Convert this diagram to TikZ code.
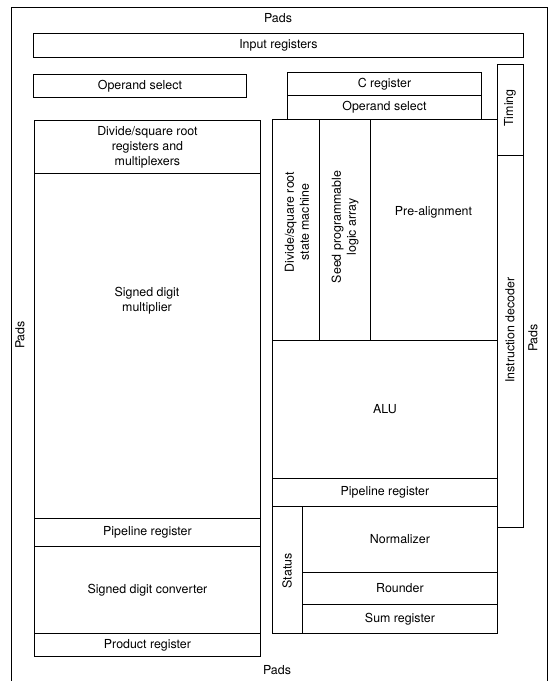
\documentclass[tikz,border=0pt]{standalone}
\usepackage{fontspec}
\setmainfont{TeX Gyre Heros}
\begin{document}
\begin{tikzpicture}[x=1pt,y=-1pt,
  blk/.style={draw, line width=0.9pt, inner sep=0pt, align=center, anchor=north west},
  lbl/.style={inner sep=0pt, align=center},
  vlbl/.style={inner sep=0pt, align=center, rotate=90},
  every node/.append style={font=\fontsize{12.4}{15}\selectfont}]
\useasboundingbox (0,0) rectangle (553,681);
\fill[white] (0,0) rectangle (553,681);
% outer pad ring
\draw[line width=0.8pt] (11,700) -- (11,7) -- (547,7) -- (547,700);
\node[lbl] (padsT) at (278,18) {Pads};
\node[lbl] (padsB) at (277,670) {Pads};
\node[vlbl] (padsL) at (20,335) {Pads};
\node[vlbl] (padsR) at (533,338) {Pads};
% top rows
\node[blk, minimum width=490pt, minimum height=24pt] (inreg) at (33,33) {Input registers};
\node[blk, minimum width=213pt, minimum height=23pt] (opsL) at (33,74) {Operand select};
\node[blk, minimum width=194pt, minimum height=23pt] (creg) at (287,72) {C register};
\node[blk, minimum width=194pt, minimum height=24pt] (opsR) at (287,95) {Operand select};
% timing / instruction decoder
\node[blk, minimum width=26pt, minimum height=91pt] (timing) at (497,64) {};
\node[vlbl] at (510,108) {Timing};
\node[blk, minimum width=26pt, minimum height=372pt] (instdec) at (497,155) {};
\node[vlbl] at (510,330) {Instruction decoder};
% left column
\node[blk, minimum width=226pt, minimum height=53pt] (dsr) at (34,120) {Divide/square root\\registers and\\multiplexers};
\node[blk, minimum width=226pt, minimum height=345pt] (sdm) at (34,173) {};
\node[lbl] at (147,301) {Signed digit\\multiplier};
\node[blk, minimum width=226pt, minimum height=28pt] (pipeL) at (34,518) {Pipeline register};
\node[blk, minimum width=226pt, minimum height=87pt] (sdc) at (34,546) {Signed digit converter};
\node[blk, minimum width=226pt, minimum height=23pt] (prod) at (34,633) {Product register};
% right block
\node[blk, minimum width=47pt, minimum height=221pt] (dsm) at (272,119) {};
\node[vlbl] at (297,222) {Divide/square root\\state machine};
\node[blk, minimum width=51pt, minimum height=221pt] (spla) at (319,119) {};
\node[vlbl] at (345,227) {Seed programmable\\logic array};
\node[blk, minimum width=127pt, minimum height=221pt] (prealign) at (370,119) {};
\node[lbl] at (433.5,212) {Pre-alignment};
\node[blk, minimum width=225pt, minimum height=138pt] (alu) at (272,340) {ALU};
\node[blk, minimum width=225pt, minimum height=28pt] (pipeR) at (272,478) {Pipeline register};
\node[blk, minimum width=30pt, minimum height=127pt] (status) at (272,506) {};
\node[vlbl] at (287,571) {Status};
\node[blk, minimum width=195pt, minimum height=66pt] (norm) at (302,506) {Normalizer};
\node[blk, minimum width=195pt, minimum height=32pt] (round) at (302,572) {Rounder};
\node[blk, minimum width=195pt, minimum height=29pt] (sumreg) at (302,604) {Sum register};
\end{tikzpicture}
\end{document}
